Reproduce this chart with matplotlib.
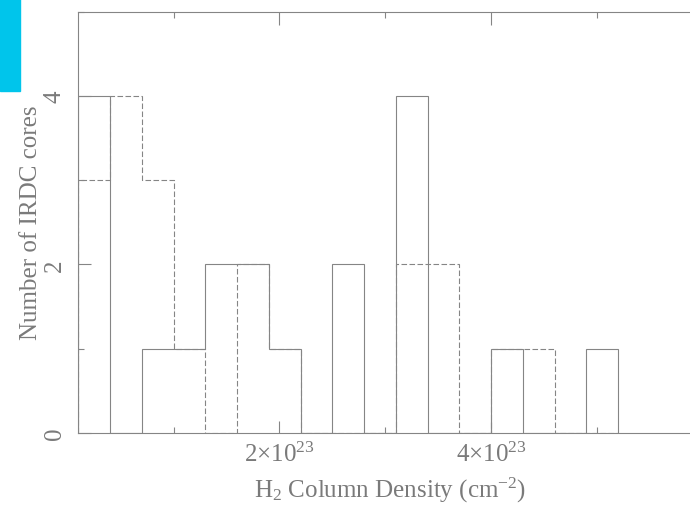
import matplotlib
matplotlib.use("Agg")
import matplotlib.pyplot as plt
from matplotlib.patches import Rectangle
from matplotlib.ticker import FixedLocator

# Bin edges in units of 1e23 cm^-2
bin_edges = [0.1, 0.4, 0.7, 1.0, 1.3, 1.6, 1.9, 2.2, 2.5, 2.8, 3.1, 3.4, 3.7, 4.0, 4.3, 4.6, 4.9, 5.2]
solid_counts = [4, 0, 1, 1, 2, 2, 1, 0, 2, 0, 4, 0, 0, 1, 0, 0, 1]
dashed_counts = [3, 4, 3, 1, 0, 2, 1, 0, 0, 0, 2, 2, 0, 1, 1, 0, 0]
x_major = [2, 4]
x_major_labels = [r"2×10$^{23}$", r"4×10$^{23}$"]
x_minor = [1, 3, 5]
y_major = [0, 2, 4]
y_minor = [1, 3, 5]

plt.rcParams['font.family'] = ['Liberation Serif', 'DejaVu Serif']
plt.rcParams['mathtext.default'] = 'regular'

W, H = 690, 506
fig = plt.figure(figsize=(W / 100, H / 100), dpi=100)
x0px, x1px = 78.3, 702.8
ytop, ybot = 12.5, 434
ax = fig.add_axes([x0px / W, (H - ybot) / H, (x1px - x0px) / W, (ybot - ytop) / H])

col = '#858585'
tcol = '#7a7a7a'
lw = 0.8
fs = 18
ax.stairs(dashed_counts, bin_edges, color=col, lw=lw, linestyle=(0, (5, 2.2)), zorder=2)
ax.stairs(solid_counts, bin_edges, color=col, lw=lw, zorder=3)

ax.set_xlim(0.1, 6.0)
ax.set_ylim(0, 5)
for s in ax.spines.values():
    s.set_color(col)
    s.set_linewidth(lw)

ax.xaxis.set_major_locator(FixedLocator(x_major))
ax.xaxis.set_minor_locator(FixedLocator(x_minor))
ax.set_xticklabels(x_major_labels)
ax.yaxis.set_major_locator(FixedLocator(y_major))
ax.yaxis.set_minor_locator(FixedLocator(y_minor))

ax.tick_params(which='both', direction='in', top=True, right=True, color=col, width=lw,
               labelcolor=tcol, labelsize=fs)
ax.tick_params(which='major', length=9)
ax.tick_params(which='minor', length=4.5)
ax.tick_params(axis='x', pad=6)
ax.tick_params(axis='y', pad=9)
for lab in ax.get_yticklabels():
    lab.set_rotation(90)
    lab.set_va('center')

ax.set_xlabel(r"H$_2$ Column Density (cm$^{-2}$)", fontsize=fs, color=tcol, labelpad=7)
ax.set_ylabel("Number of IRDC cores", fontsize=fs, color=tcol, labelpad=1)

fig.patches.append(Rectangle((0, 1 - 92 / H), 20 / W, 92 / H, transform=fig.transFigure,
                             color='#00C5EB', zorder=10))

fig.savefig("out.png", dpi=100)
